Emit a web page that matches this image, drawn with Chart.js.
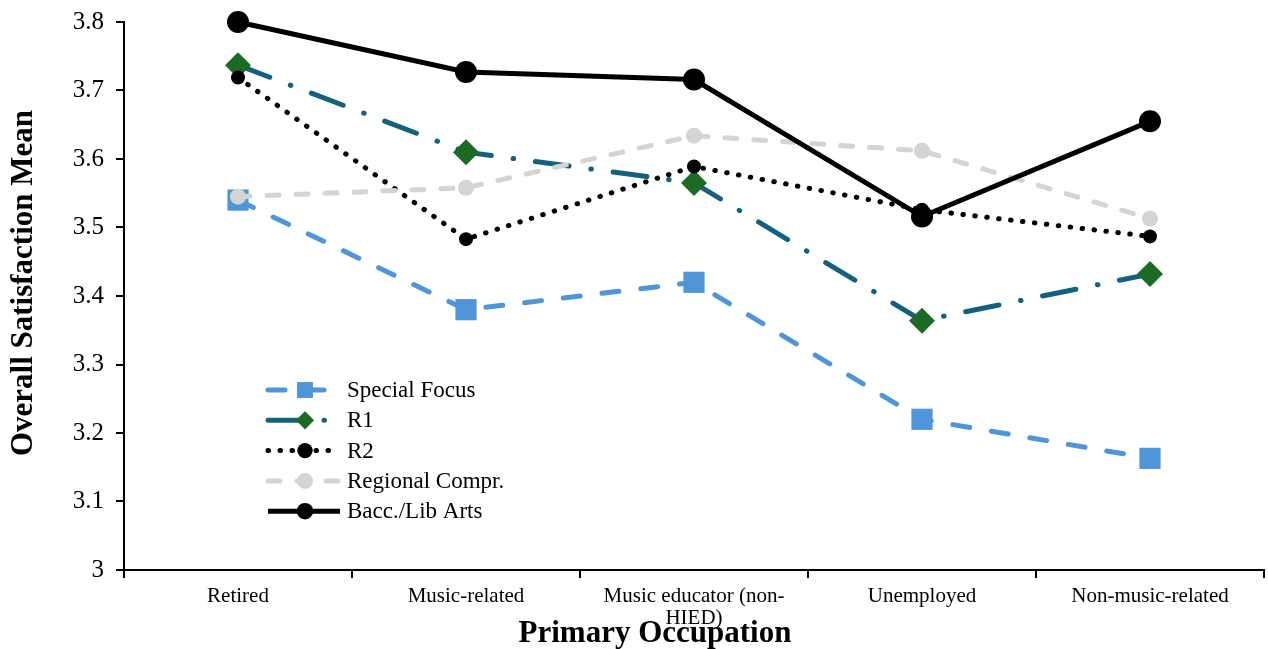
<!DOCTYPE html>
<html>
<head>
<meta charset="utf-8">
<script src="https://cdn.jsdelivr.net/npm/chart.js@4/dist/chart.umd.min.js"></script>
<style>
  html, body { margin: 0; padding: 0; background: #fff; overflow: hidden; }
  #wrap { width: 1268px; height: 649px; position: relative; }
  canvas { display: block; }
</style>
</head>
<body>
<div id="wrap"><canvas id="chart"></canvas></div>
<script>
// data
const occupations = ['Retired', 'Music-related', ['Music educator (non-', 'HIED)'], 'Unemployed', 'Non-music-related'];
const seriesNames = ['Special Focus', 'R1', 'R2', 'Regional Compr.', 'Bacc./Lib Arts'];
const specialFocus = [3.540, 3.380, 3.420, 3.220, 3.163];
const r1 = [3.737, 3.610, 3.565, 3.364, 3.432];
const r2 = [3.719, 3.483, 3.589, 3.526, 3.487];
const regionalCompr = [3.545, 3.558, 3.634, 3.612, 3.513];
const baccLibArts = [3.800, 3.727, 3.716, 3.516, 3.655];
const yTicks = { min: 3, max: 3.8, step: 0.1 };

const serif = '"Liberation Serif", "Times New Roman", serif';

const datasets = [
  {
    label: seriesNames[0], data: specialFocus, order: 5,
    borderColor: '#4f95d9', backgroundColor: '#4f95d9', borderWidth: 5,
    borderDash: [17, 22], borderCapStyle: 'round',
    pointStyle: 'rect', pointRadius: 15, pointBorderWidth: 0, legendScale: 0.75
  },
  {
    label: seriesNames[1], data: r1, order: 4,
    borderColor: '#14607f', backgroundColor: '#1b6b25', borderWidth: 5,
    borderDash: [34, 22, 0.5, 22], borderCapStyle: 'round',
    pointStyle: 'rectRot', pointRadius: 13, pointBorderWidth: 0, legendScale: 0.7
  },
  {
    label: seriesNames[2], data: r2, order: 3,
    borderColor: '#000', backgroundColor: '#000', borderWidth: 5,
    borderDash: [0.5, 11.5], borderCapStyle: 'round',
    pointStyle: 'circle', pointRadius: 7, pointBorderWidth: 0, legendScale: 1.1
  },
  {
    label: seriesNames[3], data: regionalCompr, order: 2,
    borderColor: '#d4d4d4', backgroundColor: '#d4d4d4', borderWidth: 5,
    borderDash: [12, 17], borderCapStyle: 'round',
    pointStyle: 'circle', pointRadius: 8, pointBorderWidth: 0, legendScale: 1
  },
  {
    label: seriesNames[4], data: baccLibArts, order: 1,
    borderColor: '#000', backgroundColor: '#000', borderWidth: 5,
    pointStyle: 'circle', pointRadius: 11, pointBorderWidth: 0, legendScale: 0.75
  }
];
datasets.forEach(d => { d.tension = 0; d.fill = false; d.pointHoverRadius = d.pointRadius; d.clip = false; });

// legend inside the plot area plus both axis titles, drawn on top
const overlayText = {
  id: 'overlayText',
  afterDraw(chart) {
    const ctx = chart.ctx;
    const x0 = 268, x1 = 340, textX = 347;
    let y = 390;
    chart.data.datasets.forEach(ds => {
      ctx.save();
      ctx.strokeStyle = ds.borderColor;
      ctx.lineWidth = ds.borderWidth;
      ctx.lineCap = ds.borderCapStyle || 'butt';
      ctx.setLineDash(ds.borderDash || []);
      ctx.beginPath();
      ctx.moveTo(x0, y);
      ctx.lineTo(x1, y);
      ctx.stroke();
      ctx.setLineDash([]);
      ctx.fillStyle = ds.backgroundColor;
      ctx.strokeStyle = ds.backgroundColor;
      Chart.helpers.drawPoint(ctx, {
        pointStyle: ds.pointStyle, radius: ds.pointRadius * ds.legendScale,
        rotation: 0, borderWidth: 0
      }, 305, y);
      ctx.fillStyle = '#000';
      ctx.font = '23px ' + serif;
      ctx.textBaseline = 'middle';
      ctx.fillText(ds.label, textX, y + 1);
      ctx.restore();
      y += 30.3;
    });

    ctx.save();
    ctx.fillStyle = '#000';
    ctx.font = 'bold 31px ' + serif;
    ctx.textAlign = 'center';
    ctx.textBaseline = 'middle';
    ctx.fillText('Primary Occupation', 655, 634);
    ctx.translate(24, 283);
    ctx.rotate(-Math.PI / 2);
    ctx.fillText('Overall Satisfaction Mean', 0, 0);
    ctx.restore();
  }
};

new Chart(document.getElementById('chart'), {
  type: 'line',
  data: { labels: occupations, datasets: datasets },
  plugins: [overlayText],
  options: {
    responsive: true,
    maintainAspectRatio: false,
    animation: false,
    layout: { autoPadding: false, padding: { top: 22, right: 4, left: 0, bottom: 0 } },
    plugins: { legend: { display: false }, tooltip: { enabled: false } },
    scales: {
      x: {
        offset: true,
        grid: { offset: true, drawOnChartArea: false, drawTicks: true, tickLength: 8, color: '#000', lineWidth: 2 },
        border: { color: '#000', width: 2 },
        ticks: { color: '#000', font: { family: serif, size: 21, lineHeight: 1.05 }, padding: 7, maxRotation: 0, autoSkip: false },
        afterFit(scale) { scale.height = 79; scale.paddingLeft = 0; scale.paddingRight = 0; }
      },
      y: {
        min: yTicks.min, max: yTicks.max,
        ticks: {
          stepSize: yTicks.step, color: '#000', font: { family: serif, size: 25 }, padding: 12,
          callback: v => String(Number(v.toFixed(1)))
        },
        grid: { drawOnChartArea: false, drawTicks: true, tickLength: 8, color: '#000', lineWidth: 2 },
        border: { color: '#000', width: 2 },
        afterFit(scale) { scale.width = 124; scale.paddingTop = 0; scale.paddingBottom = 0; }
      }
    }
  }
});
</script>
</body>
</html>
